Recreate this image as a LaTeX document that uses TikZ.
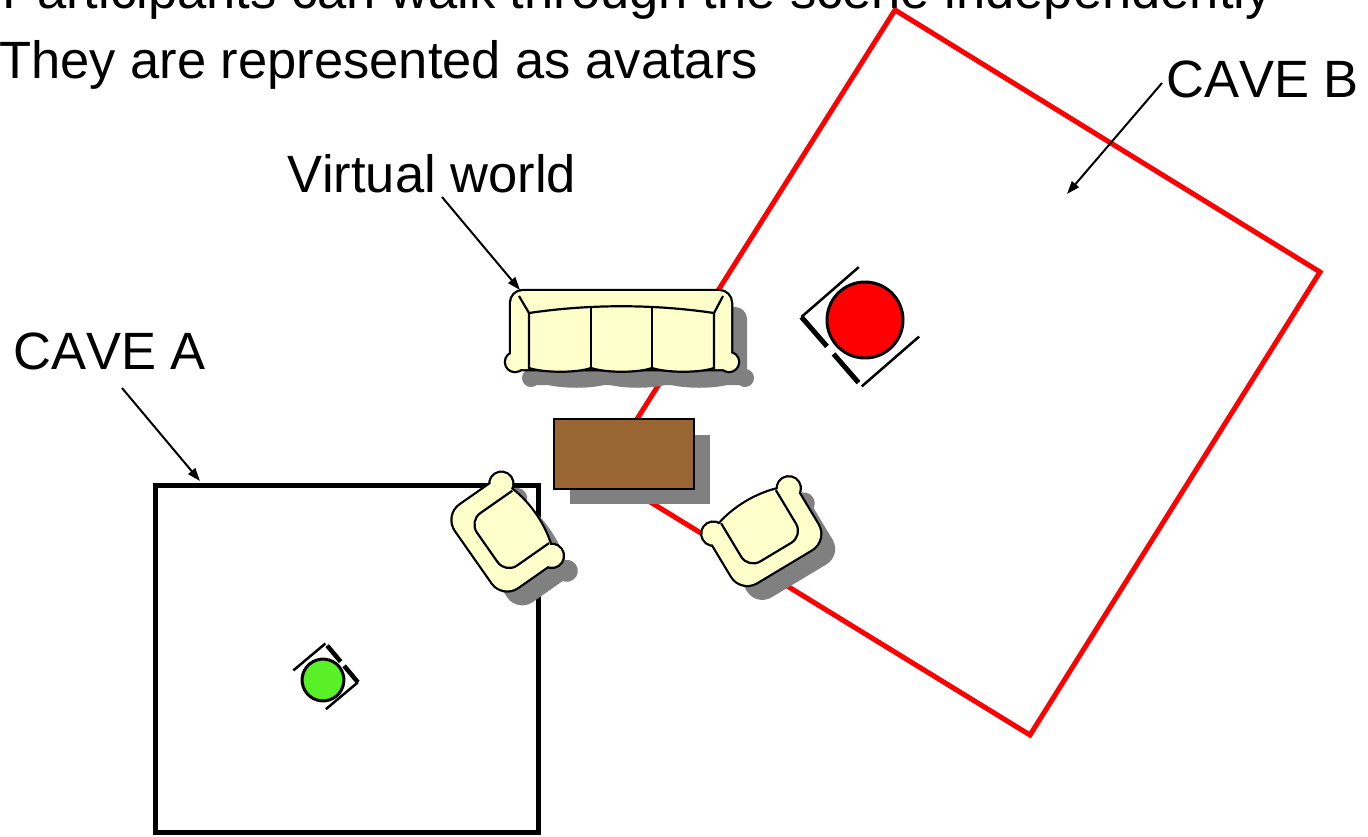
\documentclass[tikz,border=0pt]{standalone}
\usepackage{fontspec}
\setmainfont{Liberation Sans}[Kerning=Off]
\usetikzlibrary{arrows.meta,calc}

\definecolor{cushion}{RGB}{255,255,204}
\definecolor{shadowgrey}{RGB}{128,128,128}
\definecolor{wood}{RGB}{153,102,51}
\definecolor{avgreen}{RGB}{90,240,40}
\definecolor{cavered}{RGB}{255,0,0}

% sofa pieces: body and the two front feet
\newcommand\sofabody{(511,-369) -- (511,-303) arc[start angle=180,end angle=90,radius=12] -- (719,-291) arc[start angle=90,end angle=0,radius=12] -- (731,-369) -- cycle}
\newcommand\sofafootL{(515,-362) circle[radius=9]}
\newcommand\sofafootR{(729,-362) circle[radius=9]}
\newcommand\sofaseat{(529,-313) .. controls (590,-304) and (653,-304) .. (714,-313) -- (714,-368)
  .. controls (700,-373) and (667,-373) .. (652,-368)
  .. controls (638,-373) and (606,-373) .. (591,-368)
  .. controls (577,-373) and (544,-373) .. (529,-368) -- cycle}
% armchair pieces, front towards +y
\newcommand\chairbody{(-50,28) .. controls (-22,44) and (22,44) .. (50,28) -- (50,-16)
  arc[start angle=0,end angle=-90,radius=18] -- (-32,-34)
  arc[start angle=270,end angle=180,radius=18] -- cycle}
\newcommand\chairknobL{(-44,30) circle[radius=11]}
\newcommand\chairknobR{(44,30) circle[radius=11]}

\tikzset{
  label text/.style={font=\fontsize{52.5}{60}\selectfont, inner sep=0pt},
  pointer/.style={line width=2, -{Triangle[length=13,width=9]}},
  cave/.style={line width=5},
  outline/.style={line width=2.2},
  rim/.style={draw=black, line width=4.5},
  pics/chairshadow/.style={code={
    \fill[shadowgrey] \chairbody;
    \fill[shadowgrey] \chairknobL;
    \fill[shadowgrey] \chairknobR;
  }},
  pics/armchair/.style={code={
    \draw[rim] \chairbody;
    \draw[rim] \chairknobL;
    \draw[rim] \chairknobR;
    \fill[cushion] \chairbody;
    \fill[cushion] \chairknobL;
    \fill[cushion] \chairknobR;
    \draw[outline] (-32,35) -- (-32,-4) arc[start angle=180,end angle=270,radius=14]
      -- (18,-18) arc[start angle=270,end angle=360,radius=14] -- (32,35);
  }},
  avthin/.style={line width=2.5},
  avthick/.style={line width=5},
  avfill/.style={fill=cavered},
  pics/avatar/.style={code={
    \draw[avthin] (-46,44) -- (30,44);
    \draw[avthin] (-46,-48) -- (30,-48);
    \draw[avthick] (-46,44) -- (-46,5);
    \draw[avthick] (-46,-5) -- (-46,-43);
    \filldraw[avfill, draw=black, line width=3] (0,0) circle[radius=38];
  }},
}

\begin{document}
\begin{tikzpicture}[x=1pt,y=1pt]
\useasboundingbox (0,0) rectangle (1368,-836);
\clip (0,0) rectangle (1368,-836);
\fill[white] (0,0) rectangle (1368,-836);

% the two CAVE floors
\draw[cave, cavered, line join=miter] (895,-10) -- (1320,-272) -- (1030,-735) -- (603,-473) -- cycle;
\draw[cave, black, line join=miter] (155,-485) rectangle (538,-832);

% furniture shadows
\begin{scope}[shift={(16,-16)}]
  \fill[shadowgrey] \sofabody;
  \fill[shadowgrey] \sofafootL;
  \fill[shadowgrey] \sofafootR;
  \fill[shadowgrey] \sofaseat;
\end{scope}
\fill[shadowgrey] (570,-435) rectangle (710,-504);
\coordinate (chairA) at (502,-537);
\coordinate (chairB) at (766.5,-536.7);
\pic[rotate=-55] at ($(chairA)+(15,-15)$) {chairshadow};
\pic[rotate=31] at ($(chairB)+(15,-15)$) {chairshadow};

% sofa
\draw[rim] \sofabody;
\draw[rim] \sofafootL;
\draw[rim] \sofafootR;
\fill[cushion] \sofabody;
\fill[cushion] \sofafootL;
\fill[cushion] \sofafootR;
\filldraw[fill=cushion, draw=black, outline] \sofaseat;
\draw[outline] (591,-306) -- (591,-368);
\draw[outline] (652,-306) -- (652,-368);
\draw[outline] (519,-296) -- (529,-313);
\draw[outline] (723,-296) -- (714,-313);

% coffee table
\filldraw[fill=wood, draw=black, line width=2.5] (554,-419) rectangle (694,-489);

% armchairs
\pic[rotate=-55] at (chairA) {armchair};
\pic[rotate=31] at (chairB) {armchair};

% avatars
\pic[rotate=41] at (865,-320) {avatar};
\pic[rotate=220, scale=0.55, avfill/.style={fill=avgreen}, avthin/.style={line width=2.5},
     avthick/.style={line width=4.5}] at (323,-680) {avatar};

% texts
\node[label text, anchor=base east] (line1) at (1272,-8) {Participants can walk through the scene independently};
\node[label text, anchor=base west] (line2) at (-1,-78) {They are represented as avatars};
\node[label text, anchor=base west] (caveB) at (1166,-97) {CAVE B};
\node[label text, anchor=base west] (world) at (287,-192) {Virtual world};
\node[label text, anchor=base west] (caveA) at (13,-369) {CAVE A};

% pointers
\coordinate (caveBfrom) at (1162,-83);
\coordinate (caveBto) at (1067,-194);
\coordinate (worldfrom) at (442,-197);
\coordinate (worldto) at (520,-290);
\coordinate (caveAfrom) at (122,-388);
\coordinate (caveAto) at (200,-481);
\draw[pointer] (caveBfrom) -- (caveBto);
\draw[pointer] (worldfrom) -- (worldto);
\draw[pointer] (caveAfrom) -- (caveAto);
\end{tikzpicture}
\end{document}
